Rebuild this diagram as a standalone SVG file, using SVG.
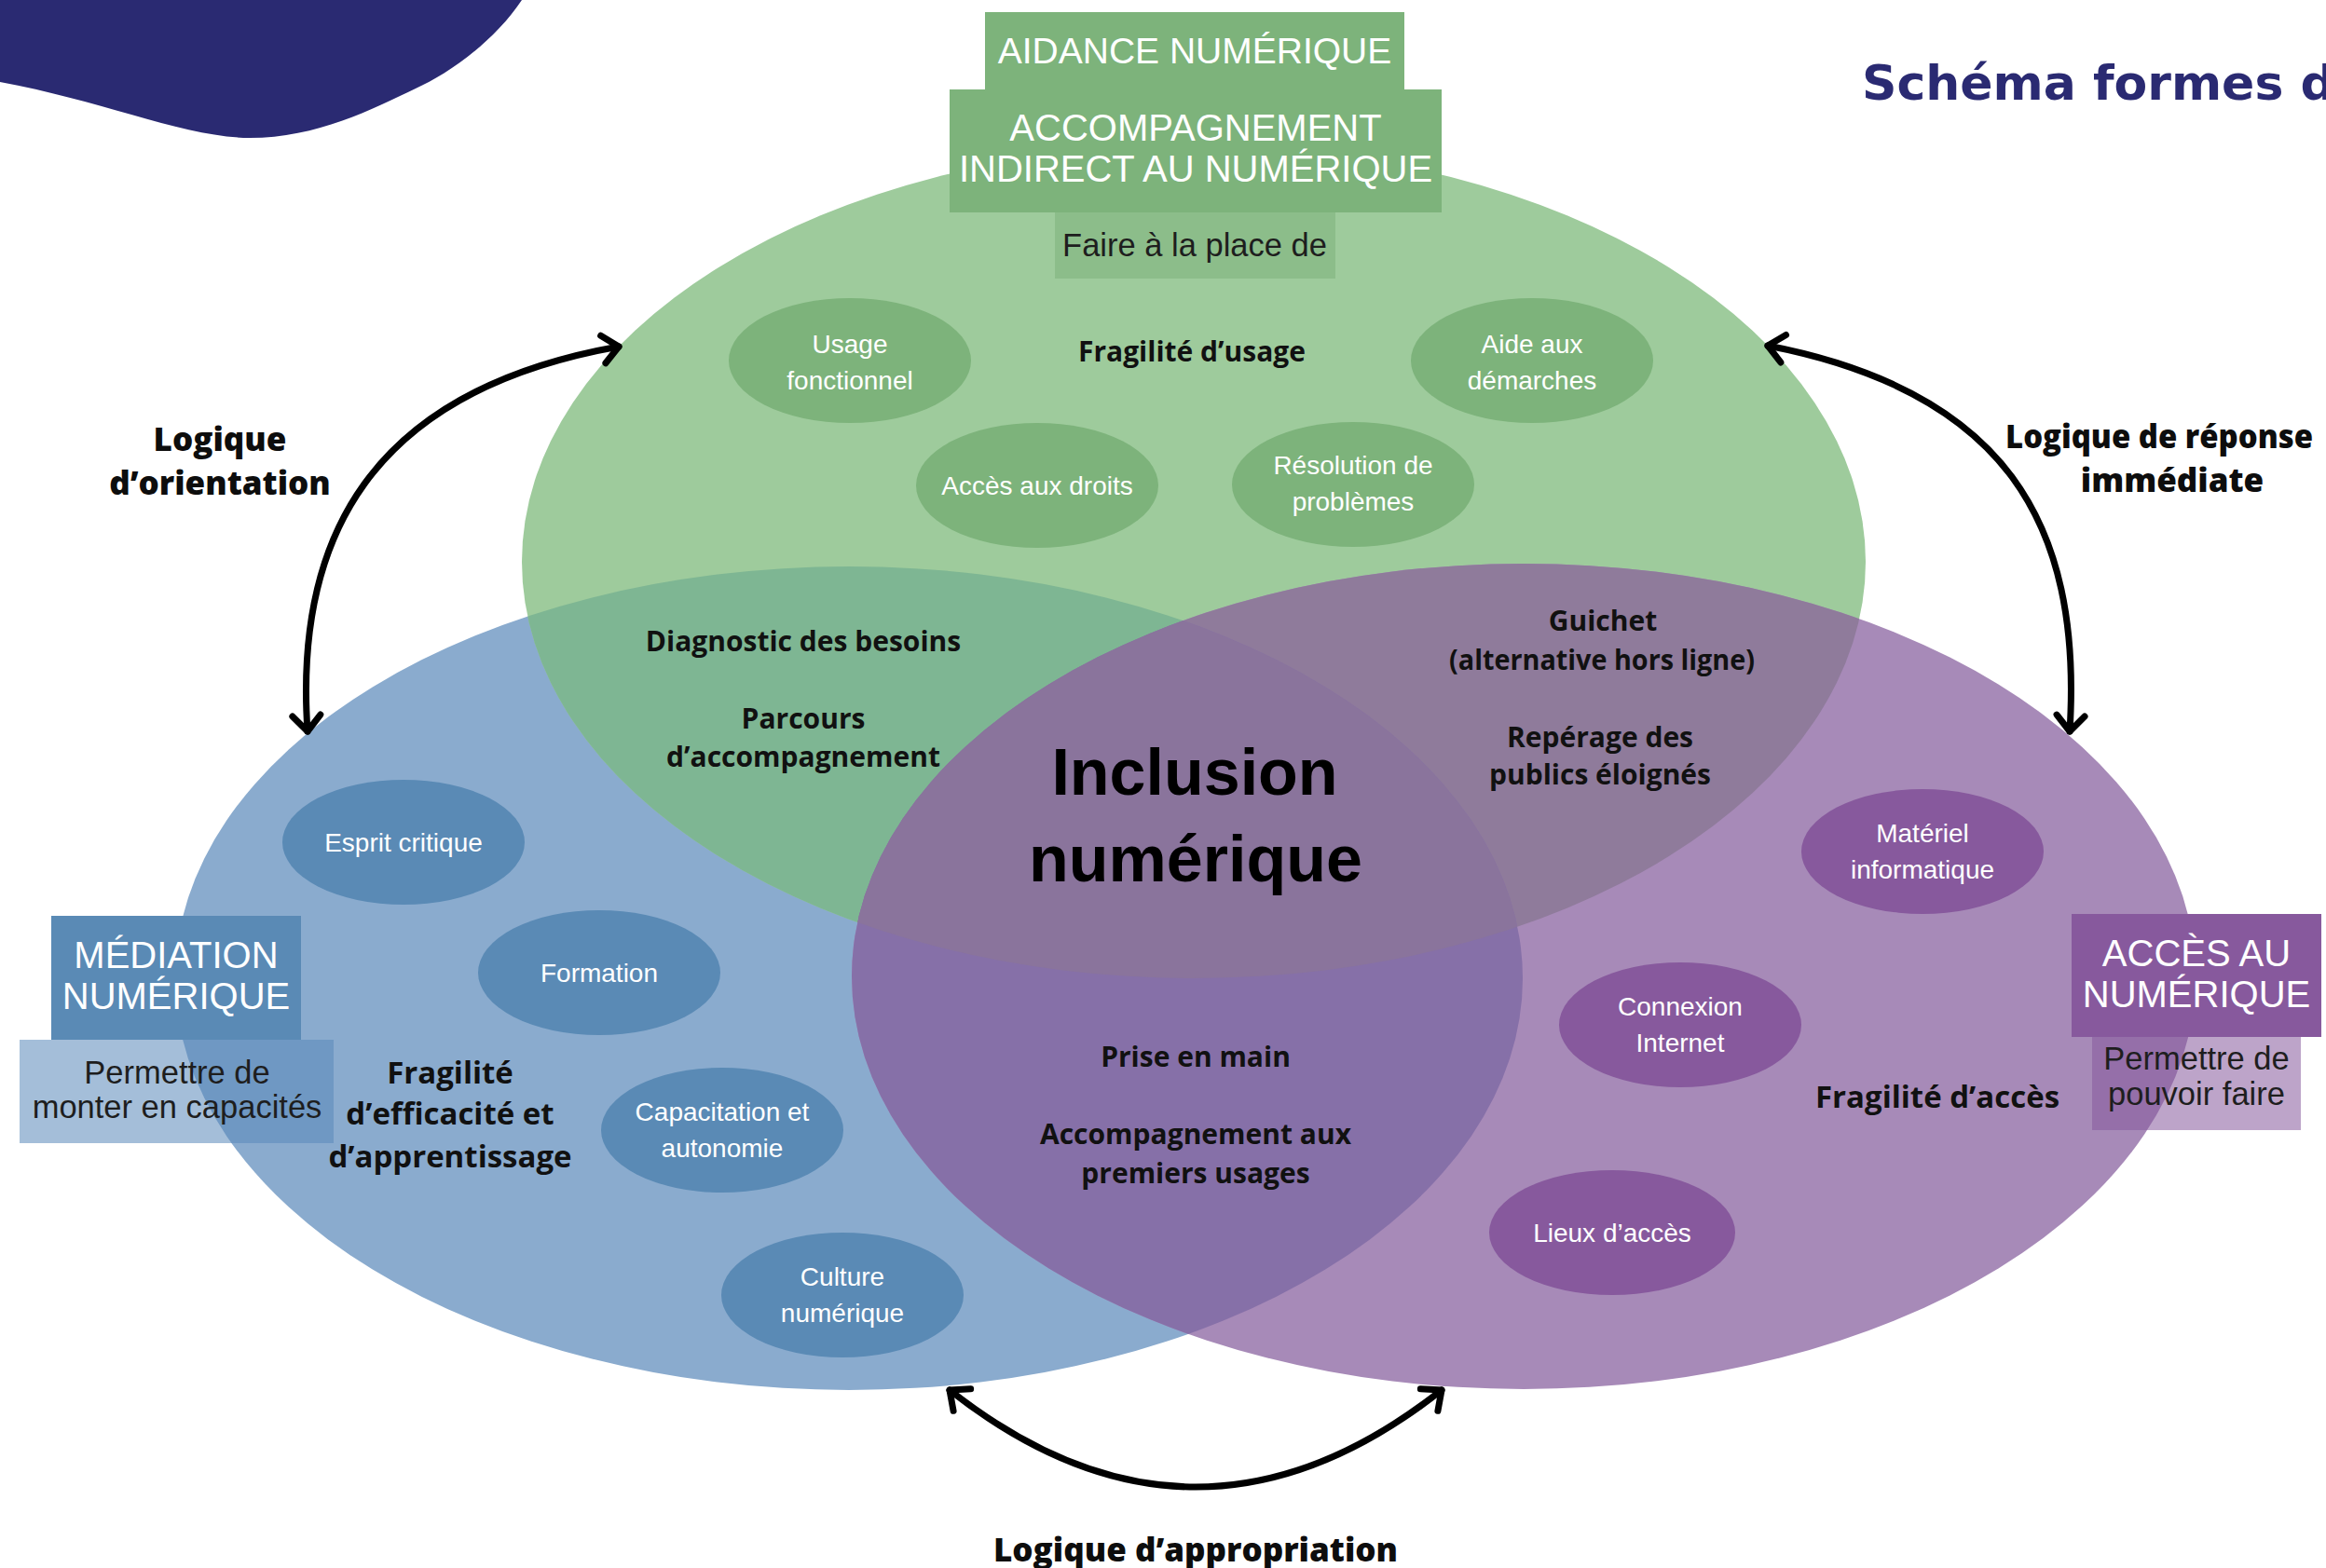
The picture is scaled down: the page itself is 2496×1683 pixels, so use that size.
<svg xmlns="http://www.w3.org/2000/svg" width="2496" height="1683" viewBox="0 0 2496 1683">
<style>
.bt{font-family:"Liberation Sans",Arial,sans-serif;font-size:28px;fill:#fff;text-anchor:middle}
.lbl{font-family:"Open Sans","Liberation Sans",sans-serif;font-weight:700;font-size:30px;fill:#111;text-anchor:middle}
.frag{font-family:"Open Sans","Liberation Sans",sans-serif;font-weight:700;font-size:33px;fill:#111;text-anchor:middle}
.logic{font-family:"Open Sans","Liberation Sans",sans-serif;font-weight:800;font-size:35px;fill:#0d0d0d;text-anchor:middle}
.hdr{font-family:"Liberation Sans",Arial,sans-serif;font-size:40px;fill:#fff;text-anchor:middle}
.sub{font-family:"Liberation Sans",Arial,sans-serif;font-size:34.5px;fill:#1e1e1e;text-anchor:middle}
.big{font-family:"Liberation Sans",Arial,sans-serif;font-weight:700;font-size:70px;fill:#000;text-anchor:middle}
.bg{fill:#7db37b}.bb{fill:#5a8ab5}.bp{fill:#87599d}
.arc{fill:none;stroke:#000;stroke-width:7;stroke-linecap:round;marker-start:url(#chev);marker-end:url(#chev)}
</style>
<defs>
<marker id="chev" markerUnits="userSpaceOnUse" markerWidth="60" markerHeight="60" refX="0" refY="0" orient="auto-start-reverse" overflow="visible" viewBox="-30 -30 60 60">
<path d="M-17,-15 L0,0 L-17,15" fill="none" stroke="#000" stroke-width="7" stroke-linecap="round" stroke-linejoin="round"/>
</marker>
<clipPath id="cG"><ellipse cx="1281" cy="603" rx="721" ry="447"/></clipPath>
<clipPath id="cB"><ellipse cx="911" cy="1050" rx="723" ry="442"/></clipPath>
</defs>
<rect width="2496" height="1683" fill="#fff"/>
<path id="blob" d="M0,0 H560 C530,45 480,80 446,95 C400,117 340,148 268,148 C200,148 110,108 0,88 Z" fill="#2a2a72"/>
<text x="1998" y="107" font-family="DejaVu Sans, Open Sans, sans-serif" font-weight="700" font-size="52" fill="#2a2a72">Schéma formes d</text>

<g id="circles">
<ellipse cx="911" cy="1050" rx="723" ry="442" fill="#8aabce"/>
<ellipse cx="1281" cy="603" rx="721" ry="447" fill="#9ecb9c"/>
<ellipse cx="1635" cy="1048" rx="721" ry="443" fill="#a78ab8"/>
<g clip-path="url(#cG)"><ellipse cx="911" cy="1050" rx="723" ry="442" fill="#7eb693"/></g>
<g clip-path="url(#cG)"><ellipse cx="1635" cy="1048" rx="721" ry="443" fill="#8f7b9b"/></g>
<g clip-path="url(#cB)"><ellipse cx="1635" cy="1048" rx="721" ry="443" fill="#8670a8"/></g>
<g clip-path="url(#cG)"><g clip-path="url(#cB)"><ellipse cx="1635" cy="1048" rx="721" ry="443" fill="#8a749c"/></g></g>
</g>

<g id="n-usage-fonctionnel"><ellipse class="bg" cx="912" cy="387" rx="130" ry="67"/><text class="bt" x="912" y="379">Usage</text><text class="bt" x="912" y="418">fonctionnel</text></g>
<g id="n-aide-demarches"><ellipse class="bg" cx="1644" cy="387" rx="130" ry="67"/><text class="bt" x="1644" y="379">Aide aux</text><text class="bt" x="1644" y="418">démarches</text></g>
<g id="n-acces-droits"><ellipse class="bg" cx="1113" cy="521" rx="130" ry="67"/><text class="bt" x="1113" y="531">Accès aux droits</text></g>
<g id="n-resolution"><ellipse class="bg" cx="1452" cy="520" rx="130" ry="67"/><text class="bt" x="1452" y="509">Résolution de</text><text class="bt" x="1452" y="548">problèmes</text></g>

<g id="n-esprit-critique"><ellipse class="bb" cx="433" cy="904" rx="130" ry="67"/><text class="bt" x="433" y="914">Esprit critique</text></g>
<g id="n-formation"><ellipse class="bb" cx="643" cy="1044" rx="130" ry="67"/><text class="bt" x="643" y="1054">Formation</text></g>
<g id="n-capacitation"><ellipse class="bb" cx="775" cy="1213" rx="130" ry="67"/><text class="bt" x="775" y="1203">Capacitation et</text><text class="bt" x="775" y="1242">autonomie</text></g>
<g id="n-culture"><ellipse class="bb" cx="904" cy="1390" rx="130" ry="67"/><text class="bt" x="904" y="1380">Culture</text><text class="bt" x="904" y="1419">numérique</text></g>

<g id="n-materiel"><ellipse class="bp" cx="2063" cy="914" rx="130" ry="67"/><text class="bt" x="2063" y="904">Matériel</text><text class="bt" x="2063" y="943">informatique</text></g>
<g id="n-connexion"><ellipse class="bp" cx="1803" cy="1100" rx="130" ry="67"/><text class="bt" x="1803" y="1090">Connexion</text><text class="bt" x="1803" y="1129">Internet</text></g>
<g id="n-lieux"><ellipse class="bp" cx="1730" cy="1323" rx="132" ry="67"/><text class="bt" x="1730" y="1333">Lieux d’accès</text></g>

<g id="n-aidance">
<rect x="1057" y="13" width="450" height="84" fill="#7db37b"/>
<text x="1282" y="68" font-family="Liberation Sans, Arial, sans-serif" font-size="39" fill="#fff" text-anchor="middle">AIDANCE NUMÉRIQUE</text>
<rect x="1019" y="96" width="528" height="132" fill="#7db37b"/>
<text class="hdr" x="1283" y="151">ACCOMPAGNEMENT</text>
<text class="hdr" x="1283" y="195">INDIRECT AU NUMÉRIQUE</text>
<rect x="1132" y="228" width="301" height="71" fill="#7db37b" fill-opacity="0.55"/>
<text class="sub" x="1282" y="275">Faire à la place de</text>
</g>

<g id="n-mediation">
<rect x="55" y="983" width="268" height="133" fill="#5a8ab5"/>
<text class="hdr" x="189" y="1039">MÉDIATION</text>
<text class="hdr" x="189" y="1083">NUMÉRIQUE</text>
<rect x="21" y="1116" width="337" height="111" fill="#5988ba" fill-opacity="0.55"/>
<text class="sub" x="190" y="1163">Permettre de</text>
<text class="sub" x="190" y="1200">monter en capacités</text>
</g>

<g id="n-acces">
<rect x="2223" y="981" width="268" height="132" fill="#87599d"/>
<text class="hdr" x="2357" y="1037">ACCÈS AU</text>
<text class="hdr" x="2357" y="1081">NUMÉRIQUE</text>
<rect x="2245" y="1113" width="224" height="100" fill="#87599d" fill-opacity="0.55"/>
<text class="sub" x="2357" y="1148">Permettre de</text>
<text class="sub" x="2357" y="1186">pouvoir faire</text>
</g>

<g id="labels">
<text class="lbl" x="1279" y="388" font-size="34">Fragilité d’usage</text>
<text class="lbl" x="862" y="699">Diagnostic des besoins</text>
<text class="lbl" x="862" y="782">Parcours</text>
<text class="lbl" x="862" y="823">d’accompagnement</text>
<text class="lbl" x="1720" y="677">Guichet</text>
<text class="lbl" x="1719" y="719" textLength="328" lengthAdjust="spacingAndGlyphs">(alternative hors ligne)</text>
<text class="lbl" x="1717" y="802">Repérage des</text>
<text class="lbl" x="1717" y="842">publics éloignés</text>
<text class="big" x="1282" y="853">Inclusion</text>
<text class="big" x="1283" y="946">numérique</text>
<text class="lbl" x="1283" y="1145">Prise en main</text>
<text class="lbl" x="1283" y="1228">Accompagnement aux</text>
<text class="lbl" x="1283" y="1270">premiers usages</text>
<text class="frag" x="483" y="1163">Fragilité</text>
<text class="frag" x="483" y="1207">d’efficacité et</text>
<text class="frag" x="483" y="1253">d’apprentissage</text>
<text class="frag" x="2079" y="1189">Fragilité d’accès</text>
</g>

<g id="connectors">
<path class="arc" d="M330,785 C316,580 395,420 664,372"/>
<path class="arc" d="M1897,371 C2150,420 2235,560 2221,785"/>
<path class="arc" d="M1019,1492 Q1283,1700 1547,1492"/>
<text class="logic" x="236" y="484">Logique</text>
<text class="logic" x="236" y="531">d’orientation</text>
<text class="logic" x="2152" y="481" style="text-anchor:start" textLength="330" lengthAdjust="spacingAndGlyphs">Logique de réponse</text>
<text class="logic" x="2331" y="528">immédiate</text>
<text class="logic" x="1283" y="1676">Logique d’appropriation</text>
</g>
</svg>
